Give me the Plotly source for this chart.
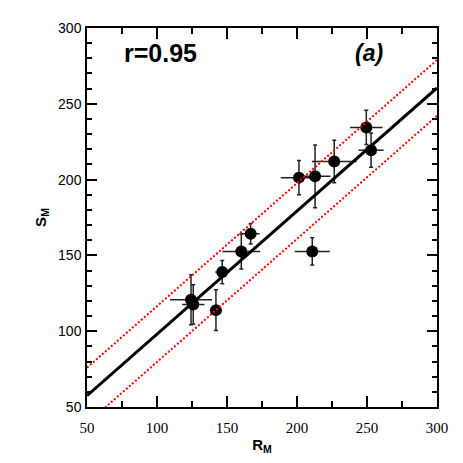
import plotly.graph_objects as go

r_m = [124.3, 125.9, 142.1, 146.6, 160.2, 166.9, 201.4, 212.9, 226.6, 249.5, 252.9, 210.9]
s_m = [120.7, 117.6, 113.9, 139.0, 152.6, 164.3, 201.3, 202.2, 212.0, 234.4, 219.4, 152.6]
r_err = [15, 8, 3, 5, 13.5, 6.4, 13, 11, 16, 11.6, 9, 12.5]
s_err = [16.5, 13, 13.5, 7.7, 11.5, 6.8, 11.3, 20.7, 14, 11.3, 11.3, 9]

# Fit line and +/- band, endpoints at x = 50 and 300
fit_x = [50, 300]
fit_y = [57.5, 260.5]
upper_y = [75.9, 278.9]
lower_y = [39.1, 242.1]

r_text = "r=0.95"
panel_label = "(a)"

fig = go.Figure()

fig.add_trace(go.Scatter(
    x=r_m, y=s_m, mode='markers',
    marker=dict(color='black', size=12),
    error_x=dict(type='data', array=r_err, color='#222222', thickness=1.5, width=0),
    error_y=dict(type='data', array=s_err, color='#222222', thickness=1.5, width=2),
    showlegend=False
))

for yy in (upper_y, lower_y):
    fig.add_trace(go.Scatter(
        x=fit_x, y=yy, mode='lines',
        line=dict(color='red', width=2, dash='2px,2px'),
        showlegend=False
    ))

fig.add_trace(go.Scatter(
    x=fit_x, y=fit_y, mode='lines',
    line=dict(color='black', width=3),
    showlegend=False
))

fig.add_annotation(x=0.1, y=0.935, xref='paper', yref='paper', text="<b>" + r_text + "</b>",
                   showarrow=False, xanchor='left', yanchor='middle',
                   font=dict(family='Liberation Sans', size=25, color='black'))
fig.add_annotation(x=0.85, y=0.935, xref='paper', yref='paper', text="<b><i>" + panel_label + "</i></b>",
                   showarrow=False, xanchor='right', yanchor='middle',
                   font=dict(family='Liberation Sans', size=23, color='black'))

fig.update_xaxes(
    range=[50, 300], tickvals=[50, 100, 150, 200, 250, 300],
    ticks='inside', ticklen=11, tickwidth=1.5, tickcolor='black',
    minor=dict(dtick=25, tick0=0, ticks='inside', ticklen=6, tickwidth=1.5, tickcolor='black'),
    showline=True, linecolor='black', linewidth=1.5, mirror='allticks',
    showgrid=False, zeroline=False, automargin=False,
    tickfont=dict(family='Liberation Serif', size=15, color='black'),
    ticklabelstandoff=6,
    title=dict(text="<b>R</b><sub><b>M</b></sub>", font=dict(family='Liberation Sans', size=15, color='black'), standoff=8)
)
fig.update_yaxes(
    range=[50, 300], tickvals=[50, 100, 150, 200, 250, 300],
    ticks='inside', ticklen=10, tickwidth=1.5, tickcolor='black',
    minor=dict(dtick=10, tick0=0, ticks='inside', ticklen=5, tickwidth=1.5, tickcolor='black'),
    showline=True, linecolor='black', linewidth=1.5, mirror='allticks',
    showgrid=False, zeroline=False, automargin=False,
    tickfont=dict(family='Liberation Sans', size=14, color='black'),
    ticklabelstandoff=1,
    title=dict(text="<b>S</b><sub><b>M</b></sub>", font=dict(family='Liberation Sans', size=15, color='black'), standoff=8)
)

# page body has an 8px margin, so the figure is 16px smaller than the window
fig.update_layout(
    width=447, height=447,
    margin=dict(l=79, r=18, t=20, b=48),
    plot_bgcolor='white', paper_bgcolor='white'
)

fig.write_html("out.html")
